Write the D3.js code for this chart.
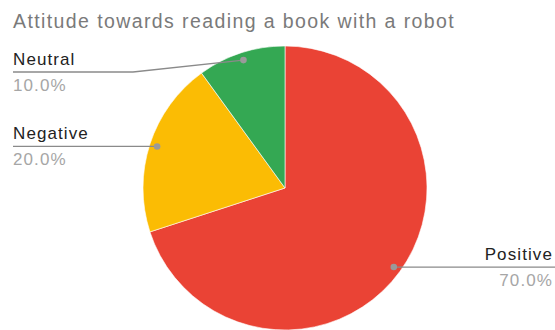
<!DOCTYPE html>
<html>
<head>
<meta charset="utf-8">
<script src="https://cdn.jsdelivr.net/npm/d3@7"></script>
<style>
  html, body { margin: 0; padding: 0; background: #fff; }
  svg { display: block; }
  text { font-family: Arial, "Liberation Sans", sans-serif; }
</style>
</head>
<body>
<svg id="chart" width="555" height="330"></svg>
<script>
// Survey answers
const title = "Attitude towards reading a book with a robot";
const categories = ["Positive", "Negative", "Neutral"];
const shares = [70, 20, 10];
const percentLabels = ["70.0%", "20.0%", "10.0%"];
const colors = ["#EA4335", "#FBBC04", "#34A853"];

const W = 555, H = 330;
const cx = 285, cy = 188, radius = 142;

const svg = d3.select("#chart");
svg.append("rect").attr("width", W).attr("height", H).attr("fill", "#fff");

svg.append("text")
  .attr("x", 13).attr("y", 28)
  .attr("font-size", 19.5)
  .attr("letter-spacing", 1.4)
  .attr("fill", "#7a7a7a")
  .text(title);

const rows = categories.map((c, i) => ({ name: c, value: shares[i], pct: percentLabels[i], color: colors[i] }));

const pie = d3.pie().sort(null).value(d => d.value).startAngle(0).endAngle(2 * Math.PI);
const arcs = pie(rows);

const arc = d3.arc().innerRadius(0).outerRadius(radius);
const g = svg.append("g").attr("transform", `translate(${cx},${cy})`);

g.selectAll("path.slice")
  .data(arcs)
  .join("path")
  .attr("class", "slice")
  .attr("d", arc)
  .attr("fill", d => d.data.color)
  .attr("stroke", "#fff")
  .attr("stroke-width", 0.6);

// Leader lines and labels
const anchorR = radius * 0.947;
const leftX = 13, rightX = 555, elbowX = 133, minLineY = 72;

arcs.forEach(a => {
  const mid = (a.startAngle + a.endAngle) / 2;
  const px = cx + anchorR * Math.sin(mid);
  const py = cy - anchorR * Math.cos(mid);
  const onRight = Math.sin(mid) > 0;
  const ly = Math.max(py, minLineY);
  let pts;
  if (onRight) {
    pts = [[px, py], [rightX, ly]];
  } else if (ly !== py) {
    pts = [[px, py], [elbowX, ly], [leftX, ly]];
  } else {
    pts = [[px, py], [leftX, ly]];
  }
  svg.append("path")
    .attr("d", d3.line()(pts))
    .attr("fill", "none")
    .attr("stroke", "#8a8a8a")
    .attr("stroke-width", 1.3);
  svg.append("circle")
    .attr("cx", px).attr("cy", py).attr("r", 3.3)
    .attr("fill", "#9a9a9a");

  const tx = onRight ? 553 : leftX;
  const anchor = onRight ? "end" : "start";
  svg.append("text")
    .attr("x", tx).attr("y", ly - 7)
    .attr("text-anchor", anchor)
    .attr("font-size", 17)
    .attr("letter-spacing", 1.1)
    .attr("fill", "#222")
    .text(a.data.name);
  svg.append("text")
    .attr("x", tx).attr("y", ly + 19)
    .attr("text-anchor", anchor)
    .attr("font-size", 17)
    .attr("letter-spacing", 1.1)
    .attr("fill", "#a6a6a6")
    .text(a.data.pct);
});
</script>
</body>
</html>
